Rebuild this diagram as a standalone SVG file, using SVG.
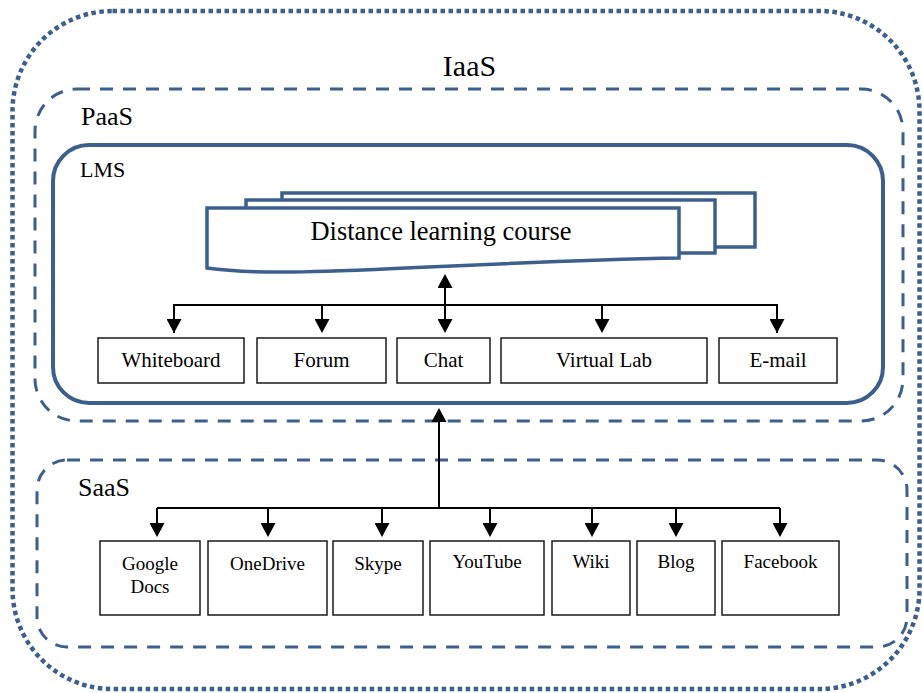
<svg xmlns="http://www.w3.org/2000/svg" width="922" height="693" viewBox="0 0 922 693">
  <defs>
    <marker id="ah" viewBox="0 0 14 15" refX="8" refY="7.5" markerWidth="14" markerHeight="15" markerUnits="userSpaceOnUse" orient="auto-start-reverse">
      <path d="M0,0 L14,7.5 L0,15 Z" fill="#000"/>
    </marker>
  </defs>
  <style>
    text { font-family: "Liberation Serif", "Times New Roman", serif; fill: #000; }
    .layer { fill: none; stroke: #3C5F8E; }
    .dotted { stroke-width: 4.5; stroke-dasharray: 4.5 3.5; }
    .dashed { stroke-width: 3; stroke-dasharray: 13 10; }
    .solid { stroke-width: 4; }
    .doc { fill: #fff; stroke: #3C5F8E; stroke-width: 3.5; }
    .box { fill: #fff; stroke: #1a1a1a; stroke-width: 1.5; }
    .lbl { font-size: 21px; text-anchor: middle; }
    .slbl { font-size: 19px; text-anchor: middle; }
    .conn { fill: none; stroke: #000; stroke-width: 2; }
    .arr { marker-end: url(#ah); }
  </style>

  <!-- infrastructure layer -->
  <g id="iaas">
    <rect class="layer dotted" x="12.5" y="11" width="907" height="678" rx="100"/>
    <text x="469.5" y="76" font-size="30" text-anchor="middle">IaaS</text>
  </g>

  <!-- platform layer -->
  <g id="paas">
    <rect class="layer dashed" x="35" y="89" width="868" height="332" rx="42"/>
    <text x="81" y="125" font-size="26">PaaS</text>
  </g>

  <!-- learning management system -->
  <g id="lms">
    <rect class="layer solid" x="53" y="145" width="830" height="258" rx="36"/>
    <text x="80" y="177" font-size="22">LMS</text>
  </g>

  <!-- stacked course documents -->
  <g id="course">
    <rect class="doc" x="282" y="193" width="473" height="54"/>
    <rect class="doc" x="246" y="200" width="469" height="53"/>
    <path class="doc" d="M207,208 H679 V258 C450,262 290,280 207,268 Z"/>
    <text x="441" y="240" font-size="26.4" text-anchor="middle">Distance learning course</text>
  </g>

  <!-- LMS tools -->
  <g id="whiteboard"><rect class="box" x="98" y="338" width="146" height="45"/><text class="lbl" x="171" y="367">Whiteboard</text></g>
  <g id="forum"><rect class="box" x="257" y="338" width="129" height="45"/><text class="lbl" x="321.5" y="367">Forum</text></g>
  <g id="chat"><rect class="box" x="397" y="338" width="93" height="45"/><text class="lbl" x="443.5" y="367">Chat</text></g>
  <g id="virtual-lab"><rect class="box" x="501" y="338" width="206" height="45"/><text class="lbl" x="604" y="367">Virtual Lab</text></g>
  <g id="email"><rect class="box" x="719" y="338" width="118" height="45"/><text class="lbl" x="778" y="367">E-mail</text></g>

  <!-- software layer -->
  <g id="saas">
    <rect class="layer dashed" x="37" y="460" width="870" height="187" rx="30"/>
    <text x="78" y="496" font-size="26">SaaS</text>
  </g>

  <!-- SaaS services -->
  <g id="google-docs"><rect class="box" x="100" y="541" width="100" height="74"/><text class="slbl" x="150" y="570">Google</text><text class="slbl" x="150" y="593">Docs</text></g>
  <g id="onedrive"><rect class="box" x="208" y="541" width="119" height="74"/><text class="slbl" x="267.5" y="570">OneDrive</text></g>
  <g id="skype"><rect class="box" x="333" y="541" width="90" height="74"/><text class="slbl" x="378" y="570">Skype</text></g>
  <g id="youtube"><rect class="box" x="430" y="541" width="114" height="74"/><text class="slbl" x="487" y="568">YouTube</text></g>
  <g id="wiki"><rect class="box" x="552" y="541" width="78" height="74"/><text class="slbl" x="591" y="568">Wiki</text></g>
  <g id="blog"><rect class="box" x="637" y="541" width="78" height="74"/><text class="slbl" x="676" y="568">Blog</text></g>
  <g id="facebook"><rect class="box" x="722" y="541" width="117" height="74"/><text class="slbl" x="780.5" y="568">Facebook</text></g>

  <!-- connectors -->
  <g id="connectors">
    <!-- course to LMS tools -->
    <path class="conn" d="M174,333 V305 H777 V333"/>
    <line class="conn arr" x1="174" y1="305" x2="174" y2="327"/>
    <line class="conn arr" x1="322" y1="305" x2="322" y2="327"/>
    <line class="conn arr" x1="602" y1="305" x2="602" y2="327"/>
    <line class="conn arr" x1="777" y1="305" x2="777" y2="327"/>
    <line class="conn" x1="445" y1="280" x2="445" y2="327" marker-start="url(#ah)" marker-end="url(#ah)"/>
    <!-- SaaS services up to LMS -->
    <line class="conn arr" x1="439" y1="508" x2="439" y2="414"/>
    <path class="conn" d="M157,508 H780"/>
    <line class="conn arr" x1="157" y1="508" x2="157" y2="531"/>
    <line class="conn arr" x1="268" y1="508" x2="268" y2="531"/>
    <line class="conn arr" x1="382" y1="508" x2="382" y2="531"/>
    <line class="conn arr" x1="490" y1="508" x2="490" y2="531"/>
    <line class="conn arr" x1="592" y1="508" x2="592" y2="531"/>
    <line class="conn arr" x1="676" y1="508" x2="676" y2="531"/>
    <line class="conn arr" x1="780" y1="508" x2="780" y2="531"/>
  </g>
</svg>
